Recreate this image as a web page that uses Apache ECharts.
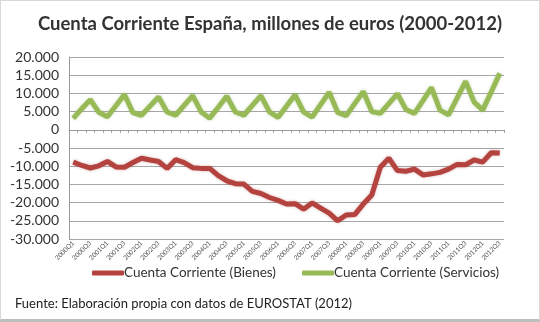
<!DOCTYPE html>
<html>
<head>
<meta charset="utf-8">
<script src="https://cdn.jsdelivr.net/npm/echarts@6/dist/echarts.min.js"></script>
<style>
  html, body { margin: 0; padding: 0; background: #fff; }
  #chart { width: 540px; height: 322px; box-sizing: border-box; border: 1px solid #d8d8d8; border-bottom: 3px solid #bdbdbd; }
</style>
</head>
<body>
<div id="chart"></div>
<script>
// Quarterly periods 2000Q1 .. 2012Q3
const years = [2000, 2001, 2002, 2003, 2004, 2005, 2006, 2007, 2008, 2009, 2010, 2011, 2012];
const quarters = [];
years.forEach(function (y) {
  ['Q1', 'Q2', 'Q3', 'Q4'].forEach(function (q) {
    if (!(y === 2012 && q === 'Q4')) quarters.push(y + q);
  });
});

// Current account balance, goods (millions of euros)
const bienes = [
  -8900, -9800, -10500, -9900,
  -8700, -10200, -10300, -9000,
  -7800, -8300, -8700, -10600,
  -8200, -9000, -10400, -10600,
  -10600, -12600, -14000, -14800,
  -14900, -16900, -17500, -18600,
  -19400, -20400, -20300, -21800,
  -20100, -21500, -22900, -25000,
  -23400, -23300, -20400, -17900,
  -10300, -7800, -11200, -11400,
  -10800, -12400, -12100, -11700,
  -10800, -9500, -9600, -8300,
  -8900, -6300, -6400
];

// Current account balance, services (millions of euros)
const servicios = [
  3150, 5800, 8300, 4800,
  3600, 6600, 9700, 4700,
  4000, 6500, 9000, 4900,
  4000, 6700, 9400, 4900,
  3200, 6200, 9200, 4900,
  4000, 6700, 9400, 4900,
  3400, 6500, 9600, 4900,
  3500, 6900, 10300, 4800,
  3900, 7200, 10500, 5000,
  4500, 7200, 9900, 5600,
  4500, 8000, 11600, 5400,
  4100, 8700, 13300, 7600,
  5400, 10400, 15500
];

const seriesNames = ['Cuenta Corriente (Bienes)', 'Cuenta Corriente (Servicios)'];
const titleText = 'Cuenta Corriente España, millones de euros (2000-2012)';
const sourceText = 'Fuente: Elaboración propia con datos de EUROSTAT (2012)';

function fmtThousands(v) {
  const s = Math.abs(v).toString().replace(/\B(?=(\d{3})+(?!\d))/g, '.');
  return (v < 0 ? '-' : '') + s;
}

const chart = echarts.init(document.getElementById('chart'), null, { renderer: 'canvas' });
const FONT = 'Lato';

const legendCommon = {
  top: 260,
  itemWidth: 32,
  itemHeight: 5,
  icon: 'roundRect',
  textStyle: { fontFamily: FONT, fontSize: 13.5, color: '#333', padding: [0, 0, 0, -5] }
};

chart.setOption({
  animation: false,
  backgroundColor: '#fff',
  title: [
    {
      text: titleText,
      left: 'center',
      top: 9,
      textStyle: { fontFamily: FONT, fontSize: 18.5, fontWeight: 'bold', color: '#333' }
    },
    {
      text: sourceText,
      left: 9,
      top: 291,
      textStyle: { fontFamily: FONT, fontSize: 13, fontWeight: 'normal', color: '#222' }
    }
  ],
  legend: [
    Object.assign({ data: [seriesNames[0]], left: 86 }, legendCommon),
    Object.assign({ data: [seriesNames[1]], left: 296 }, legendCommon)
  ],
  grid: { left: 68, right: 35, top: 56, bottom: 80, containLabel: false },
  xAxis: {
    type: 'category',
    data: quarters,
    boundaryGap: true,
    axisLine: { onZero: true, lineStyle: { color: '#9a9a9a', width: 1 } },
    axisTick: { show: true, interval: 0, length: 3, lineStyle: { color: '#9a9a9a' } },
    axisLabel: {
      interval: 1,
      rotate: 45,
      fontSize: 6.5,
      margin: 3,
      color: '#555',
      fontFamily: FONT
    },
    splitLine: { show: false }
  },
  yAxis: {
    type: 'value',
    min: -30000,
    max: 20000,
    interval: 5000,
    axisLine: { show: true, lineStyle: { color: '#9a9a9a' } },
    axisTick: { show: false },
    axisLabel: {
      formatter: fmtThousands,
      fontFamily: FONT,
      fontSize: 14,
      color: '#333',
      margin: 10
    },
    splitLine: { show: true, lineStyle: { color: '#a6a6a6', width: 1 } }
  },
  series: [
    {
      name: seriesNames[0],
      type: 'line',
      data: bienes,
      symbol: 'none',
      smooth: false,
      color: '#b4423e',
      lineStyle: { width: 5, color: '#b4423e', shadowColor: 'rgba(140,40,40,0.35)', shadowBlur: 3 },
      z: 3
    },
    {
      name: seriesNames[1],
      type: 'line',
      data: servicios,
      symbol: 'none',
      smooth: false,
      color: '#97ba56',
      lineStyle: { width: 5, color: '#97ba56', shadowColor: 'rgba(110,150,60,0.35)', shadowBlur: 3 },
      z: 3
    }
  ]
});
</script>
</body>
</html>
